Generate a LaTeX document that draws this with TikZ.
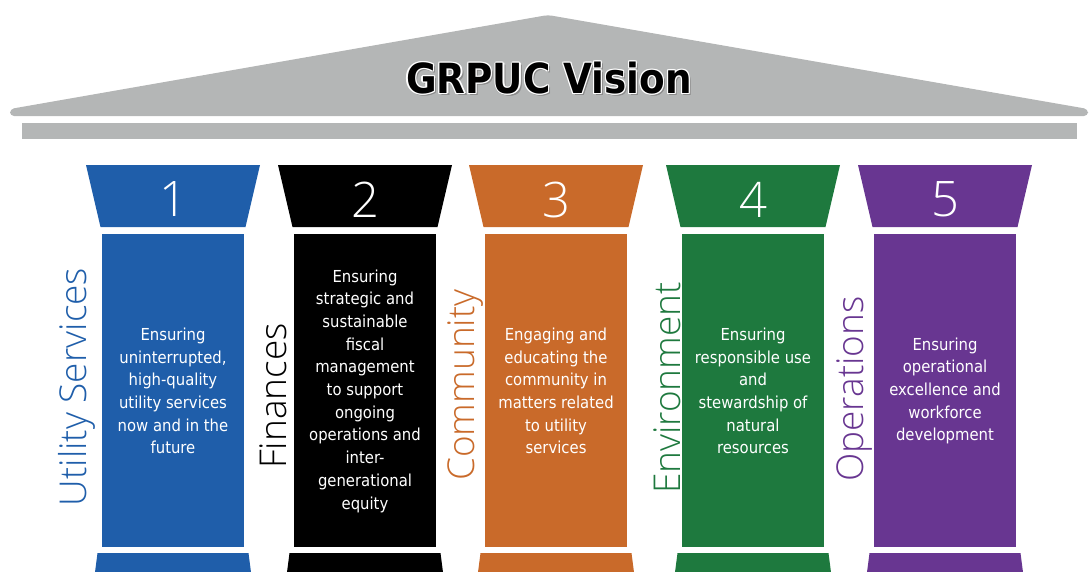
\documentclass[tikz,border=0pt]{standalone}
\usepackage{fontspec}
\setmainfont{DejaVu Sans Condensed}
\newfontfamily\labfont{Open Sans Light}
\definecolor{roofgray}{RGB}{180,182,182}
\definecolor{pblue}{RGB}{31,94,170}
\definecolor{pblack}{RGB}{0,0,0}
\definecolor{porange}{RGB}{201,106,42}
\definecolor{pgreen}{RGB}{30,121,62}
\definecolor{ppurple}{RGB}{104,54,145}
\tikzset{
  numtext/.style={text=white, font=\labfont\fontsize{49}{49}\selectfont, inner sep=0pt},
  sidelabel/.style={font=\labfont\fontsize{37}{37}\selectfont, inner sep=0pt, rotate=90},
  desctext/.style={text=white, align=center, inner sep=0pt,
    font=\fontsize{16.5}{22.7}\selectfont},
  titletext/.style={font=\bfseries\fontsize{41.5}{41.5}\selectfont, inner sep=0pt},
}
% #1 name, #2 centre x, #3 colour, #4 number, #5 label, #6 label x, #7 label y, #8 text
\newcommand\pillar[8]{%
  % capital
  \fill[#3] ({#2-87},165) -- ({#2+87},165) -- ({#2+72.5},227) -- ({#2-72.5},227) -- cycle;
  % shaft
  \fill[#3] ({#2-71},234) rectangle ({#2+71},547);
  % base
  \fill[#3] ({#2-75.5},553) -- ({#2+75.5},553) -- ({#2+79},580) -- ({#2-79},580) -- cycle;
  \node[numtext] (num#1) at (#2,199.5) {#4};
  \node[sidelabel, text=#3] (lab#1) at (#6,#7) {#5};
  \node[desctext] (desc#1) at (#2,391) {#8};
}
\begin{document}
\begin{tikzpicture}[x=1pt,y=-1pt]
  \useasboundingbox (0,0) rectangle (1091,571);
  % roof
  \fill[roofgray, rounded corners=4pt] (548,15) -- (1088,109) -- (1088,116) -- (10,116) -- (10,109) -- cycle;
  \fill[roofgray] (22,123) rectangle (1077,139);
  % title: soft shadow, thin white outline, black letters
  \foreach \dx/\dy in {1.6/1.6, 2.2/2.2}
    \node[titletext, text=black!45] at (549+\dx,78+\dy) {GRPUC Vision};
  \foreach \dx/\dy in {1.2/0,-1.2/0,0/1.2,0/-1.2,0.9/0.9,-0.9/0.9,0.9/-0.9,-0.9/-0.9}
    \node[titletext, text=white] at (549+\dx,78+\dy) {GRPUC Vision};
  \node[titletext, text=black] (title) at (549,78) {GRPUC Vision};
  % pillars
  \pillar{1}{173}{pblue}{1}{Utility Services}{77}{387}{Ensuring\\uninterrupted,\\high-quality\\utility services\\now and in the\\future}
  \pillar{2}{365}{pblack}{2}{Finances}{273}{396}{Ensuring\\strategic and\\sustainable\\fiscal\\management\\to support\\ongoing\\operations and\\inter-\\generational\\equity}
  \pillar{3}{556}{porange}{3}{Community}{466}{385}{Engaging and\\educating the\\community in\\matters related\\to utility\\services}
  \pillar{4}{753}{pgreen}{4}{Environment}{667}{388}{Ensuring\\responsible use\\and\\stewardship of\\natural\\resources}
  \pillar{5}{945}{ppurple}{5}{Operations}{855}{389}{Ensuring\\operational\\excellence and\\workforce\\development}
\end{tikzpicture}
\end{document}
